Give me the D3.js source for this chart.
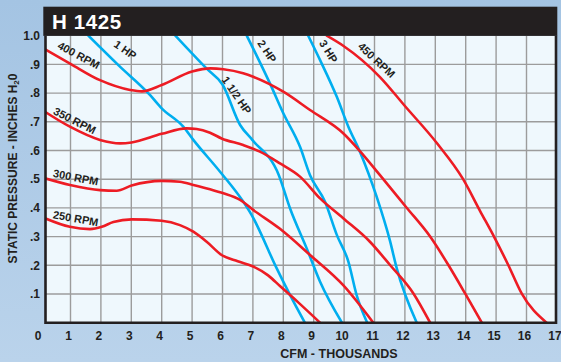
<!DOCTYPE html>
<html>
<head>
<meta charset="utf-8">
<script src="https://cdn.jsdelivr.net/npm/d3@7"></script>
<style>
  html, body { margin: 0; padding: 0; background: #b0cce8; }
  svg { display: block; font-family: "Liberation Sans", Arial, Helvetica, sans-serif; }
</style>
</head>
<body>
<svg id="chart" width="561" height="362"></svg>
<script>
// Fan performance curves for model H 1425: static pressure vs. airflow
const title = "H 1425";
const xTicks = [0,1,2,3,4,5,6,7,8,9,10,11,12,13,14,15,16,17];
const yTicks = [0.1,0.2,0.3,0.4,0.5,0.6,0.7,0.8,0.9,1.0];
const yTickLabels = [".1",".2",".3",".4",".5",".6",".7",".8",".9","1.0"];

// Speed curves (CFM thousands, inches H2O)
const rpm250 = [[0.16,0.364],[0.98,0.334],[1.64,0.326],[2.03,0.334],[2.41,0.351],[3.01,0.36],[4.0,0.355],[4.6,0.34],[5.04,0.317],[5.48,0.282],[5.97,0.236],[6.5,0.214],[7.01,0.196],[7.5,0.165],[7.89,0.128],[8.5,0.07],[9.21,0]];
const rpm300 = [[0.16,0.503],[0.98,0.48],[1.97,0.462],[2.52,0.46],[3.01,0.478],[4.0,0.494],[4.6,0.491],[5.04,0.48],[5.59,0.465],[6.03,0.451],[6.58,0.428],[7.01,0.393],[7.89,0.327],[8.88,0.236],[9.97,0.131],[10.96,0]];
const rpm350 = [[0.16,0.735],[0.98,0.683],[1.97,0.637],[2.63,0.625],[3.01,0.628],[4.0,0.658],[4.82,0.677],[5.15,0.675],[5.59,0.662],[5.97,0.642],[6.68,0.619],[7.23,0.596],[7.89,0.555],[8.55,0.509],[9.21,0.433],[9.97,0.364],[10.85,0.282],[11.51,0.201],[12.28,0.102],[12.83,0]];
const rpm400 = [[0.16,0.953],[1.0,0.902],[1.97,0.845],[2.96,0.811],[3.35,0.806],[4.0,0.828],[5.0,0.875],[5.6,0.886],[6.03,0.883],[6.68,0.869],[7.01,0.857],[8.0,0.805],[8.88,0.741],[9.97,0.66],[10.52,0.598],[11.18,0.514],[12.03,0.404],[12.83,0.30],[13.43,0.201],[13.98,0.102],[14.53,0]];
const rpm450 = [[9.43,1.0],[9.97,0.965],[11.18,0.856],[12.0,0.755],[13.05,0.626],[13.91,0.501],[14.47,0.39],[14.96,0.294],[15.4,0.201],[15.84,0.102],[16.66,0]];

// Horsepower curves
const hp1 = [[1.59,1.0],[2.6,0.895],[3.62,0.793],[4.0,0.747],[4.71,0.683],[5.04,0.637],[5.92,0.526],[6.68,0.422],[6.96,0.375],[7.78,0.19],[8.22,0.097],[8.71,0]];
const hp15 = [[4.45,1.0],[5.48,0.885],[6.0,0.83],[6.58,0.689],[6.98,0.637],[7.85,0.515],[8.22,0.399],[8.77,0.259],[9.21,0.143],[9.93,0]];
const hp2 = [[6.8,1.0],[7.56,0.834],[8.0,0.73],[8.55,0.613],[8.88,0.514],[9.37,0.422],[9.76,0.306],[10.14,0.213],[10.41,0.097],[10.76,0]];
const hp3 = [[8.82,1.0],[9.21,0.915],[9.76,0.787],[10.14,0.683],[10.52,0.596],[11.07,0.439],[11.51,0.285],[11.73,0.19],[12.39,0]];

const speedCurves = [rpm250, rpm300, rpm350, rpm400, rpm450];
const powerCurves = [hp1, hp15, hp2, hp3];

// Curve labels: text, anchor in data units, rotation
const curveLabels = [
  {text:"400 RPM", x:1.21, y:0.92, angle:28},
  {text:"350 RPM", x:1.08, y:0.692, angle:27},
  {text:"300 RPM", x:1.15, y:0.493, angle:11},
  {text:"250 RPM", x:1.15, y:0.35, angle:10},
  {text:"1 HP",    x:2.73, y:0.94, angle:35},
  {text:"1 1/2 HP",x:6.36, y:0.785, angle:55},
  {text:"2 HP",    x:7.36, y:0.938, angle:56},
  {text:"3 HP",    x:9.38, y:0.938, angle:58},
  {text:"450 RPM", x:10.98, y:0.905, angle:43}
];

const W = 561, H = 362;
const plot = {left: 45.5, right: 556, top: 35.7, bottom: 322.7};
const x = d3.scaleLinear().domain([0, 17]).range([40.1, 556.9]);
const y = d3.scaleLinear().domain([0, 1]).range([322.7, 35.7]);

const svg = d3.select("#chart");
const defs = svg.append("defs");
const bg = defs.append("linearGradient").attr("id","bg").attr("x1",0).attr("y1",0).attr("x2",0).attr("y2",1);
bg.append("stop").attr("offset","0%").attr("stop-color","#a4c4e3");
bg.append("stop").attr("offset","100%").attr("stop-color","#bad3eb");
defs.append("clipPath").attr("id","plotClip").append("rect")
  .attr("x", plot.left).attr("y", plot.top)
  .attr("width", plot.right - plot.left).attr("height", plot.bottom - plot.top);

svg.append("rect").attr("width", W).attr("height", H).attr("fill", "url(#bg)");

// Plot background
svg.append("rect")
  .attr("x", plot.left).attr("y", plot.top)
  .attr("width", plot.right - plot.left).attr("height", plot.bottom - plot.top)
  .attr("fill", "#eff8fd");

// Grid
const grid = svg.append("g").attr("stroke", "#9c9c9c").attr("stroke-width", 1.4);
grid.selectAll("line.v").data(xTicks.filter(d => d > 0 && d < 17)).join("line")
  .attr("class","v")
  .attr("x1", d => x(d)).attr("x2", d => x(d))
  .attr("y1", plot.top).attr("y2", plot.bottom);
grid.selectAll("line.h").data(yTicks.filter(d => d < 1)).join("line")
  .attr("class","h")
  .attr("x1", plot.left).attr("x2", plot.right)
  .attr("y1", d => y(d)).attr("y2", d => y(d));

// Curves
const line = d3.line().x(d => x(d[0])).y(d => y(d[1])).curve(d3.curveMonotoneX);
const curves = svg.append("g").attr("clip-path", "url(#plotClip)").attr("fill", "none")
  .attr("stroke-width", 2.6).attr("stroke-linejoin", "round").attr("stroke-linecap", "round");
curves.selectAll("path.hp").data(powerCurves).join("path")
  .attr("class","hp").attr("stroke", "#00aeef").attr("d", line);
curves.selectAll("path.rpm").data(speedCurves).join("path")
  .attr("class","rpm").attr("stroke", "#ed1c24").attr("d", line);

// Curve labels
svg.append("g").selectAll("text").data(curveLabels).join("text")
  .attr("transform", d => `translate(${x(d.x)},${y(d.y)}) rotate(${d.angle})`)
  .attr("text-anchor", "middle")
  .attr("font-size", 11).attr("font-weight", "bold").attr("fill", "#231f20")
  .text(d => d.text);

// Frame
const frame = svg.append("g").attr("stroke", "#231f20").attr("stroke-width", 2.6).attr("fill","none");
frame.append("path").attr("d", `M${plot.left},${plot.top}V${plot.bottom}H${plot.right}V${plot.top}`);

// Title bar
svg.append("rect").attr("x", 43.3).attr("y", 6.7).attr("width", 557.3 - 43.3).attr("height", 29.2).attr("fill", "#231f20");
svg.append("text").attr("x", 52).attr("y", 28.5).attr("fill", "#ffffff")
  .attr("font-size", 20.5).attr("font-weight", "bold").attr("letter-spacing", 0.6).text(title);

// Axis tick labels
svg.append("g").selectAll("text").data(yTicks).join("text")
  .attr("x", 40).attr("y", d => y(d) + 4.2)
  .attr("text-anchor", "end").attr("font-size", 12).attr("font-weight", "bold").attr("fill", "#231f20")
  .text((d, i) => yTickLabels[i]);
svg.append("g").selectAll("text").data(xTicks).join("text")
  .attr("x", d => x(d) - 2).attr("y", 339.5)
  .attr("text-anchor", "middle").attr("font-size", 12).attr("font-weight", "bold").attr("fill", "#231f20")
  .text(d => d);

// Axis titles
svg.append("text").attr("x", 339).attr("y", 357.5).attr("text-anchor", "middle")
  .attr("font-size", 12.5).attr("font-weight", "bold").attr("fill", "#231f20")
  .text("CFM - THOUSANDS");
const yt = svg.append("text").attr("transform", "translate(17,168.5) rotate(-90)")
  .attr("text-anchor", "middle").attr("font-size", 12).attr("font-weight", "bold").attr("fill", "#231f20");
yt.append("tspan").text("STATIC PRESSURE - INCHES H");
yt.append("tspan").attr("font-size", 8).attr("dy", 2).text("2");
yt.append("tspan").attr("dy", -2).text("0");
</script>
</body>
</html>
